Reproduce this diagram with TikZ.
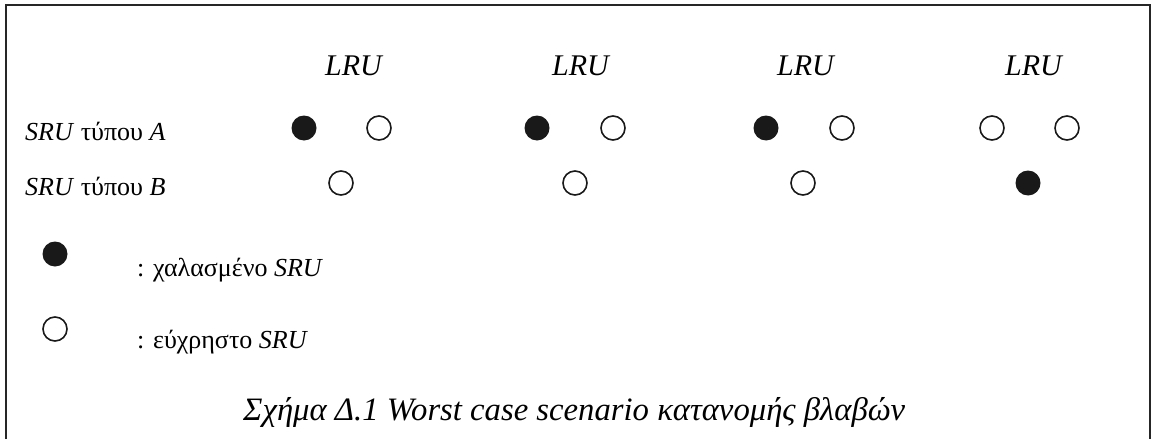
\documentclass[tikz,border=0pt]{standalone}
\usepackage{fontspec}
\setmainfont{Liberation Serif}
\begin{document}
\begin{tikzpicture}[x=1pt,y=-1pt,
  frame/.style={line width=2.2pt, draw=black!85},
  bad/.style={circle, fill=black!90, minimum size=25pt, inner sep=0pt},
  good/.style={circle, draw=black!90, line width=1.6pt, fill=white, minimum size=24pt, inner sep=0pt},
  rowlbl/.style={anchor=base west, inner sep=0pt, font=\fontsize{26}{30}\selectfont},
  lrulbl/.style={anchor=base west, inner sep=0pt, font=\fontsize{30}{34}\selectfont\itshape},
  caption/.style={anchor=base west, inner sep=0pt, font=\fontsize{32.7}{38}\selectfont\itshape}]
\useasboundingbox (0,0) rectangle (1153,439);

% open frame around the figure
\draw[frame] (6,439) -- (6,5) -- (1150,5) -- (1150,439);

% column headings
\node[lrulbl] (lru1) at (325,75) {LRU};
\node[lrulbl] (lru2) at (552,75) {LRU};
\node[lrulbl] (lru3) at (777,75) {LRU};
\node[lrulbl] (lru4) at (1005,75) {LRU};

% row labels
\node[rowlbl] (rowA) at (25,140) {\textit{SRU} τύπου \textit{A}};
\node[rowlbl] (rowB) at (25,195) {\textit{SRU} τύπου \textit{B}};

% first LRU
\node[bad]  (a1l) at (304,128) {};
\node[good] (a1r) at (379,128) {};
\node[good] (b1)  at (341,183) {};
% second LRU
\node[bad]  (a2l) at (537,128) {};
\node[good] (a2r) at (613,128) {};
\node[good] (b2)  at (575,183) {};
% third LRU
\node[bad]  (a3l) at (766,128) {};
\node[good] (a3r) at (842,128) {};
\node[good] (b3)  at (803,183) {};
% fourth LRU
\node[good] (a4l) at (992,128) {};
\node[good] (a4r) at (1067,128) {};
\node[bad]  (b4)  at (1028,183) {};

% legend
\node[bad]  (legbad)  at (55,254) {};
\node[rowlbl] (legbadtxt) at (137,276) {: χαλασμένο \textit{SRU}};
\node[good] (leggood) at (55,329) {};
\node[rowlbl] (leggoodtxt) at (137,348) {: εύχρηστο \textit{SRU}};

% caption
\node[caption] (cap) at (243,420) {Σχήμα Δ.1 Worst case scenario κατανομής βλαβών};
\end{tikzpicture}
\end{document}
